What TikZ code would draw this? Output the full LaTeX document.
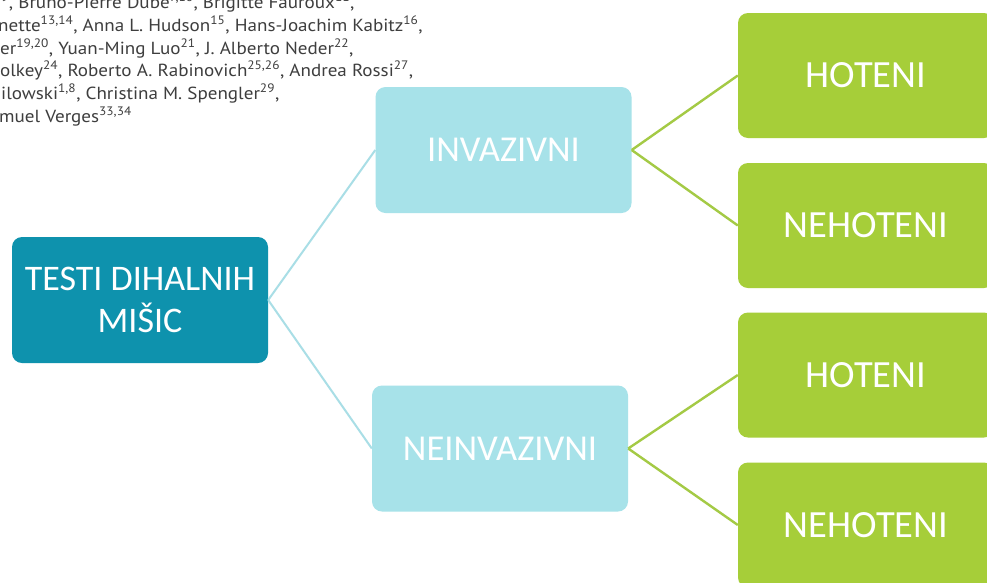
\documentclass[tikz,border=0pt]{standalone}
\usepackage{fontspec}
\setmainfont{Carlito}
\newfontfamily\authfont[FakeStretch=1.09]{PT Sans}
\definecolor{rootfill}{HTML}{0E92AD}
\definecolor{midfill}{HTML}{A7E2E9}
\definecolor{leaffill}{HTML}{A6CE39}
\definecolor{bluelink}{HTML}{A9DEE6}
\definecolor{greenlink}{HTML}{A4CA45}
\definecolor{authgray}{HTML}{3E3E3E}
\tikzset{
  box/.style={rounded corners=10pt, inner sep=0pt, text=white, align=center},
  rootbox/.style={box, fill=rootfill, minimum width=256pt, minimum height=126pt,
    font=\fontsize{36}{42}\selectfont},
  midbox/.style={box, fill=midfill, minimum width=256pt, minimum height=126pt,
    font=\fontsize{36.5}{42}\selectfont},
  leafbox/.style={box, fill=leaffill, minimum width=256pt, minimum height=125pt,
    font=\fontsize{38.5}{44}\selectfont},
  bluelinkstyle/.style={draw=bluelink, line width=2pt},
  greenlinkstyle/.style={draw=greenlink, line width=2.4pt},
  authline/.style={anchor=base west, inner sep=0pt, text=authgray,
    font=\authfont\fontsize{17.5}{20}\selectfont}
}
\begin{document}
\begin{tikzpicture}[x=1pt,y=-1pt]
\useasboundingbox (0,0) rectangle (987,582);
\clip (0,0) rectangle (987,582);
\fill[white] (0,0) rectangle (987,582);

% author list fragment, top left
\node[authline] (l1) at (1,8) {\textsuperscript{9}, Bruno-Pierre Dubé\textsuperscript{7,10}, Brigitte Fauroux\textsuperscript{11},};
\node[authline] (l2) at (-2,31) {nette\textsuperscript{13,14}, Anna L. Hudson\textsuperscript{15}, Hans-Joachim Kabitz\textsuperscript{16},};
\node[authline] (l3) at (0,54) {er\textsuperscript{19,20}, Yuan-Ming Luo\textsuperscript{21}, J. Alberto Neder\textsuperscript{22},};
\node[authline] (l4) at (0,76) {olkey\textsuperscript{24}, Roberto A. Rabinovich\textsuperscript{25,26}, Andrea Rossi\textsuperscript{27},};
\node[authline] (l5) at (1,99) {ilowski\textsuperscript{1,8}, Christina M. Spengler\textsuperscript{29},};
\node[authline] (l6) at (-1,122) {muel Verges\textsuperscript{33,34}};

% tree boxes
\node[rootbox] (root) at (140,300) {TESTI DIHALNIH\\MIŠIC};
\node[midbox] (inv) at (503.5,150) {INVAZIVNI};
\node[midbox] (neinv) at (500,448.5) {NEINVAZIVNI};
\node[leafbox] (hot1) at (866,75.5) {HOTENI};
\node[leafbox] (neh1) at (866,225.5) {NEHOTENI};
\node[leafbox] (hot2) at (866,375) {HOTENI};
\node[leafbox] (neh2) at (866,525) {NEHOTENI};

% connectors
\draw[bluelinkstyle] (root.east) -- (inv.west);
\draw[bluelinkstyle] (root.east) -- (neinv.west);
\draw[greenlinkstyle] (inv.east) -- (hot1.west);
\draw[greenlinkstyle] (inv.east) -- (neh1.west);
\draw[greenlinkstyle] (neinv.east) -- (hot2.west);
\draw[greenlinkstyle] (neinv.east) -- (neh2.west);
\end{tikzpicture}
\end{document}
